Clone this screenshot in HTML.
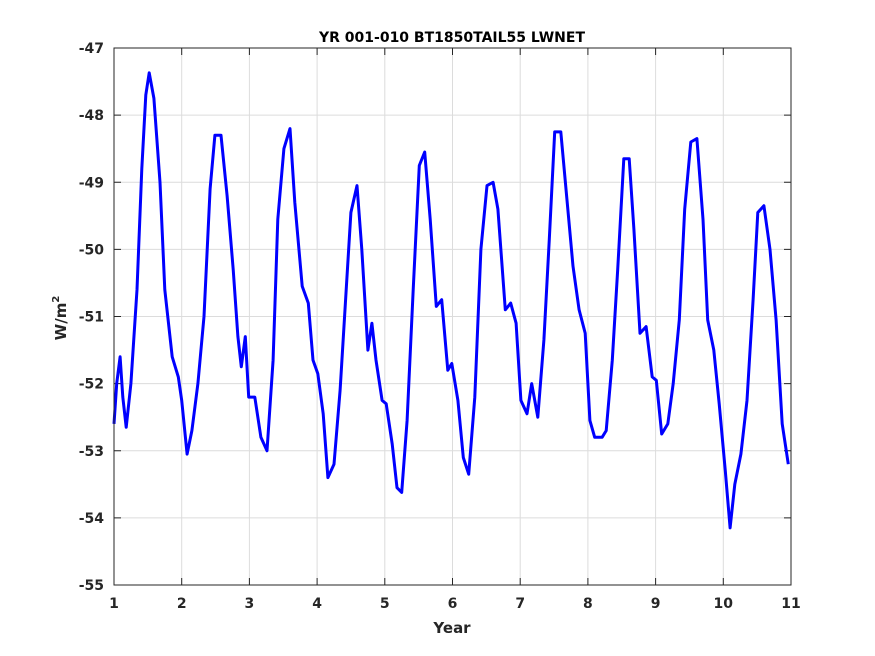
<!DOCTYPE html>
<html><head><meta charset="utf-8"><style>
body{margin:0;background:#fff;}
svg{display:block;font-family:"DejaVu Sans","Liberation Sans",sans-serif;}
</style></head><body>
<svg id="chart" width="875" height="656" viewBox="0 0 875 656" xmlns="http://www.w3.org/2000/svg">
<rect width="875" height="656" fill="#fff"/>
<g id="grid"></g>
<g id="axes"></g>
<polyline id="series" fill="none" stroke="#0000ff" stroke-width="3" stroke-linejoin="round"/>
<rect x="114" y="48" width="677" height="537" fill="none" stroke="#262626" stroke-width="1"/>
<text x="452" y="42" text-anchor="middle" font-size="14" font-weight="bold" fill="#000">YR 001-010 BT1850TAIL55 LWNET</text>
<text x="452" y="633" text-anchor="middle" font-size="15" font-weight="bold" fill="#262626">Year</text>
<text transform="translate(66,318) rotate(-90)" text-anchor="middle" font-size="15" font-weight="bold" fill="#262626">W/m<tspan font-size="10" dy="-7">2</tspan></text>
</svg>
<script>
const years=[1.00,1.04,1.09,1.13,1.18,1.25,1.34,1.41,1.47,1.52,1.59,1.68,1.75,1.86,1.95,2.00,2.08,2.15,2.24,2.33,2.42,2.49,2.58,2.67,2.76,2.83,2.88,2.94,2.99,3.08,3.17,3.26,3.35,3.42,3.51,3.60,3.67,3.78,3.87,3.94,4.01,4.09,4.16,4.25,4.34,4.43,4.50,4.59,4.66,4.75,4.81,4.87,4.96,5.02,5.11,5.18,5.25,5.33,5.42,5.51,5.59,5.67,5.76,5.84,5.93,5.99,6.08,6.16,6.24,6.33,6.42,6.51,6.60,6.67,6.78,6.86,6.94,7.01,7.10,7.17,7.26,7.35,7.43,7.51,7.60,7.69,7.78,7.87,7.96,8.03,8.10,8.21,8.27,8.36,8.44,8.53,8.61,8.68,8.77,8.86,8.95,9.01,9.09,9.18,9.26,9.35,9.43,9.52,9.61,9.70,9.77,9.86,9.94,10.03,10.10,10.17,10.26,10.35,10.44,10.51,10.60,10.69,10.78,10.87,10.96];
const lwnet=[-52.6,-52,-51.6,-52.2,-52.65,-52,-50.6,-48.8,-47.7,-47.37,-47.75,-49,-50.6,-51.6,-51.9,-52.25,-53.05,-52.7,-52,-51,-49.1,-48.3,-48.3,-49.2,-50.3,-51.3,-51.75,-51.3,-52.2,-52.2,-52.8,-53,-51.65,-49.55,-48.5,-48.2,-49.3,-50.55,-50.8,-51.65,-51.85,-52.45,-53.4,-53.2,-52.1,-50.6,-49.45,-49.05,-50,-51.5,-51.1,-51.65,-52.25,-52.3,-52.9,-53.55,-53.62,-52.55,-50.6,-48.75,-48.55,-49.55,-50.85,-50.75,-51.8,-51.7,-52.25,-53.1,-53.35,-52.2,-50,-49.05,-49,-49.4,-50.9,-50.8,-51.1,-52.25,-52.45,-52,-52.5,-51.35,-49.85,-48.25,-48.25,-49.25,-50.25,-50.9,-51.25,-52.55,-52.8,-52.8,-52.7,-51.65,-50.3,-48.65,-48.65,-49.7,-51.25,-51.15,-51.9,-51.95,-52.75,-52.6,-52,-51.05,-49.4,-48.4,-48.35,-49.55,-51.05,-51.5,-52.3,-53.3,-54.15,-53.5,-53.05,-52.25,-50.75,-49.45,-49.35,-50,-51.05,-52.6,-53.2];
const xTicks=[1,2,3,4,5,6,7,8,9,10,11];
const yTicks=[-47,-48,-49,-50,-51,-52,-53,-54,-55];
const X0=114,X1=791,Y0=48,Y1=585;
const xs=v=>X0+(v-1)/10*(X1-X0);
const ys=v=>Y0+(-47-v)/8*(Y1-Y0);
const NS="http://www.w3.org/2000/svg";
const grid=document.getElementById('grid'),axes=document.getElementById('axes');
function mk(tag,attrs,parent){const e=document.createElementNS(NS,tag);for(const k in attrs)e.setAttribute(k,attrs[k]);parent.appendChild(e);return e;}
xTicks.forEach(t=>{
  const x=xs(t);
  const g=mk('line',{x1:x,x2:x,y1:Y0,y2:Y1,stroke:'#dcdcdc','stroke-width':1},grid);
  
  
  const a=mk('line',{x1:x,x2:x,y1:Y1,y2:Y1-7,stroke:'#262626'},axes);
  
  
  const b=mk('line',{x1:x,x2:x,y1:Y0,y2:Y0+7,stroke:'#262626'},axes);
  
  
  const l=mk('text',{x:x,y:608,'text-anchor':'middle','font-size':14,'font-weight':'bold',fill:'#262626'},axes);
  l.textContent=t;
  
  
});
yTicks.forEach(t=>{
  const y=ys(t);
  const g=mk('line',{x1:X0,x2:X1,y1:y,y2:y,stroke:'#dcdcdc','stroke-width':1},grid);
  
  
  const a=mk('line',{x1:X0,x2:X0+7,y1:y,y2:y,stroke:'#262626'},axes);
  
  
  const b=mk('line',{x1:X1,x2:X1-7,y1:y,y2:y,stroke:'#262626'},axes);
  
  
  const l=mk('text',{x:104,y:y+5,'text-anchor':'end','font-size':14,'font-weight':'bold',fill:'#262626'},axes);
  l.textContent=t;
  
  
});
document.getElementById('series').setAttribute('points',years.map((t,i)=>xs(t).toFixed(1)+','+ys(lwnet[i]).toFixed(1)).join(' '));
</script>
</body></html>
